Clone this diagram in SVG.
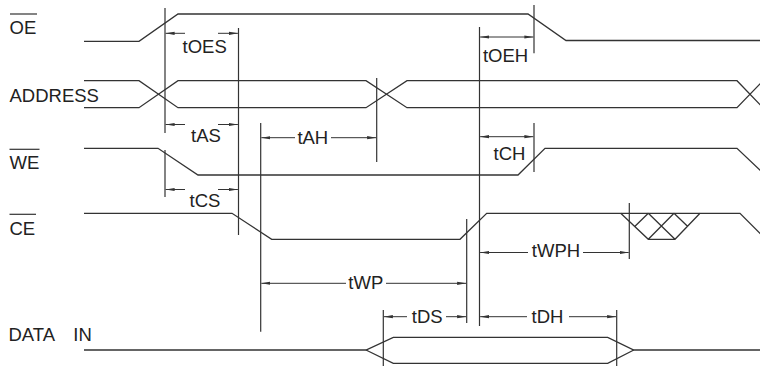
<svg xmlns="http://www.w3.org/2000/svg" width="760" height="366" viewBox="0 0 760 366">
<style>
.sig{fill:none;stroke:#333;stroke-width:1.3;stroke-linejoin:miter}
.v{fill:none;stroke:#333;stroke-width:1.2}
.dim{fill:none;stroke:#333;stroke-width:1}
.arr{marker-end:url(#ah)}
.both{marker-start:url(#ah);marker-end:url(#ah)}
text{font-family:"Liberation Sans",Arial,Helvetica,sans-serif;font-size:18.5px;fill:#222}
.t{text-anchor:middle}
.ov{stroke:#333;stroke-width:1.2}
</style>
<defs>
<marker id="ah" markerUnits="userSpaceOnUse" markerWidth="10" markerHeight="5" refX="9" refY="2.5" orient="auto-start-reverse" viewBox="0 0 10 5">
<path d="M0,0.9 L9,2.5 L0,4.1 z" fill="#333"/>
</marker>
</defs>
<rect width="760" height="366" fill="#fff"/>
<g id="labels">
<g id="label-oe"><text x="9.5" y="33.5">OE</text><line class="ov" x1="10" y1="14" x2="37" y2="14"/></g>
<g id="label-address"><text x="9.5" y="101.5">ADDRESS</text></g>
<g id="label-we"><text x="9.5" y="168.5">WE</text><line class="ov" x1="9.5" y1="149.3" x2="39.5" y2="149.3"/></g>
<g id="label-ce"><text x="9.5" y="235">CE</text><line class="ov" x1="9.5" y1="214.3" x2="36" y2="214.3"/></g>
<g id="label-data"><text x="8.5" y="341">DATA</text><text x="73.3" y="341">IN</text></g>
</g>
<g id="signals">
<g id="sig-oe"><path class="sig" d="M84,41.3 H139 L178,14 H528 L566,40.5 H760"/></g>
<g id="sig-address">
<path class="sig" d="M84,80.7 H139 L178,107.7 H366 L407,80.7 H737 L763,107.7"/>
<path class="sig" d="M84,107.7 H139 L178,80.7 H366 L407,107.7 H737 L763,80.7"/>
</g>
<g id="sig-we"><path class="sig" d="M84,148.3 H158 L198,175 H518 L545,148.3 H737 L762,172"/></g>
<g id="sig-ce">
<path class="sig" d="M84,213.3 H232 L271.7,239.3 H460 L486.7,213.3 H740 L766,239.3"/>
<path class="sig" d="M620.7,213.3 L648.3,239.3 H675 L700,213.3 M648.3,213.3 L675,239.3 M674,213.3 L648.3,239.3 M648.3,213.3 L635,226.3 M674,213.3 L687.5,226.3"/>
</g>
<g id="sig-data">
<path class="sig" d="M84,350 H366 L393.3,337.3 H607.7 L633.8,350 H760"/>
<path class="sig" d="M366,350 L393.3,363.3 H607.7 L633.8,350"/>
</g>
</g>
<g id="connectors">
<g id="ext-lines">
<path class="v" d="M165,8 V133 M165,150 V197"/>
<path class="v" d="M238.5,28 V235"/>
<path class="v" d="M260.7,123 V331.7"/>
<path class="v" d="M376.7,78 V162"/>
<path class="v" d="M466.7,219 V323"/>
<path class="v" d="M479.5,27 V326"/>
<path class="v" d="M534,5 V53.3 M534,123 V172"/>
<path class="v" d="M629.3,203 V259"/>
<path class="v" d="M383.3,310 V366"/>
<path class="v" d="M616.7,310 V366"/>
</g>
<g id="t-oes">
<path class="dim arr" d="M185,33.3 H165.6"/><path class="dim arr" d="M218,33.3 H237.9"/>
<text class="t" x="204.7" y="53.3">tOES</text>
</g>
<g id="t-as">
<path class="dim arr" d="M185,124.5 H165.6"/><path class="dim arr" d="M218,124.5 H237.9"/>
<text class="t" x="206" y="141.7">tAS</text>
</g>
<g id="t-cs">
<path class="dim arr" d="M185,189.5 H165.6"/><path class="dim arr" d="M218,189.5 H237.9"/>
<text class="t" x="205" y="206.7">tCS</text>
</g>
<g id="t-ah">
<path class="dim arr" d="M295,137.7 H261.3"/><path class="dim arr" d="M331,137.7 H376.1"/>
<text class="t" x="312.8" y="144">tAH</text>
</g>
<g id="t-oeh">
<path class="dim both" d="M480.1,37 H533.4"/>
<text class="t" x="505.5" y="61.7">tOEH</text>
</g>
<g id="t-ch">
<path class="dim both" d="M480.1,136.7 H533.4"/>
<text class="t" x="509.5" y="160">tCH</text>
</g>
<g id="t-wph">
<path class="dim arr" d="M528,252.5 H480.1"/><path class="dim arr" d="M583,252.5 H628.7"/>
<text class="t" x="556" y="256.5">tWPH</text>
</g>
<g id="t-wp">
<path class="dim arr" d="M346,283.3 H261.3"/><path class="dim arr" d="M386,283.3 H466.1"/>
<text class="t" x="365.8" y="288.8">tWP</text>
</g>
<g id="t-ds">
<path class="dim arr" d="M407,316.7 H383.9"/><path class="dim arr" d="M446,316.7 H466.1"/>
<text class="t" x="427.2" y="323">tDS</text>
</g>
<g id="t-dh">
<path class="dim arr" d="M527,316.7 H480.1"/><path class="dim arr" d="M569,316.7 H616.1"/>
<text class="t" x="547.5" y="323">tDH</text>
</g>
</g>
</svg>
